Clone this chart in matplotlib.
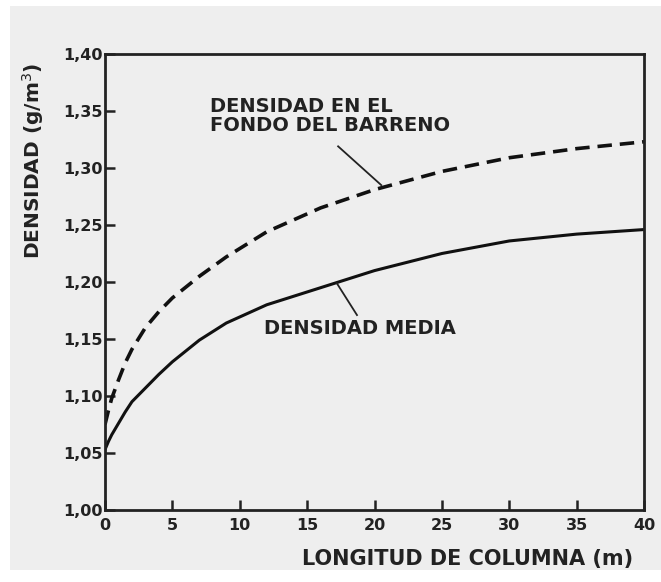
import matplotlib.pyplot as plt
from matplotlib.patches import Rectangle

# longitud de columna (m)
x_fondo = [0, 0.25, 0.5, 1, 1.5, 2, 3, 4, 5, 7, 9, 12, 16, 20, 25, 30, 35, 40]
d_fondo = [1.075, 1.087, 1.098, 1.114, 1.129, 1.141, 1.160, 1.174, 1.186, 1.205,
           1.222, 1.244, 1.265, 1.281, 1.297, 1.309, 1.317, 1.323]
x_media = [0, 0.25, 0.5, 1, 1.5, 2, 3, 4, 5, 7, 9, 12, 16, 20, 25, 30, 35, 40]
d_media = [1.053, 1.060, 1.066, 1.076, 1.086, 1.095, 1.107, 1.119, 1.130, 1.149,
           1.164, 1.180, 1.195, 1.210, 1.225, 1.236, 1.242, 1.246]

xticks = [0, 5, 10, 15, 20, 25, 30, 35, 40]
yticks = [1.00, 1.05, 1.10, 1.15, 1.20, 1.25, 1.30, 1.35, 1.40]
ylabels = ['1,00', '1,05', '1,10', '1,15', '1,20', '1,25', '1,30', '1,35', '1,40']

bg = '#eeeeee'
ink = '#222222'
fig = plt.figure(figsize=(6.61, 5.82), dpi=100)
fig.patch.set_facecolor('white')
fig.patches.append(Rectangle((10 / 661, 0.02), 1, 0.97, transform=fig.transFigure,
                             facecolor=bg, edgecolor='none', zorder=-10))
ax = fig.add_axes([105 / 661, 1 - 510 / 582, 539 / 661, 456 / 582])
ax.set_facecolor(bg)

ax.plot(x_fondo, d_fondo, color='#111111', lw=2.6, ls=(0, (4, 2.2)))
ax.plot(x_media, d_media, color='#111111', lw=2.2)

ax.set_xlim(0, 40)
ax.set_ylim(1.00, 1.40)
ax.set_xticks(xticks)
ax.set_yticks(yticks)
ax.set_yticklabels(ylabels)
for s in ax.spines.values():
    s.set_linewidth(2)
    s.set_color(ink)
ax.tick_params(direction='in', length=7, width=1.8, color=ink,
               labelsize=11.5, labelcolor=ink)
ax.tick_params(axis='x', pad=6)
ax.tick_params(axis='y', pad=2)
for lab in ax.get_xticklabels() + ax.get_yticklabels():
    lab.set_fontweight('bold')

ax.set_xlabel('LONGITUD DE COLUMNA (m)', fontsize=15, fontweight='bold',
              color=ink, loc='right')
ax.xaxis.set_label_coords(0.98, -0.085)
ax.set_ylabel('DENSIDAD (g/m$^3$)', fontsize=14.5, fontweight='bold',
              color=ink, va='center')
ax.yaxis.set_label_coords(-0.134, 0.765)

ax.text(7.8, 1.346, 'DENSIDAD EN EL\nFONDO DEL BARRENO', fontsize=14,
        fontweight='bold', color=ink, va='center', ha='left', linespacing=1.0)
ax.plot([17.3, 20.5], [1.319, 1.285], color=ink, lw=1.3)
ax.text(11.8, 1.159, 'DENSIDAD MEDIA', fontsize=14, fontweight='bold',
        color=ink, va='center', ha='left')
ax.plot([17.2, 18.7], [1.199, 1.171], color=ink, lw=1.3)

fig.savefig('out.png', dpi=100, facecolor=fig.get_facecolor())
